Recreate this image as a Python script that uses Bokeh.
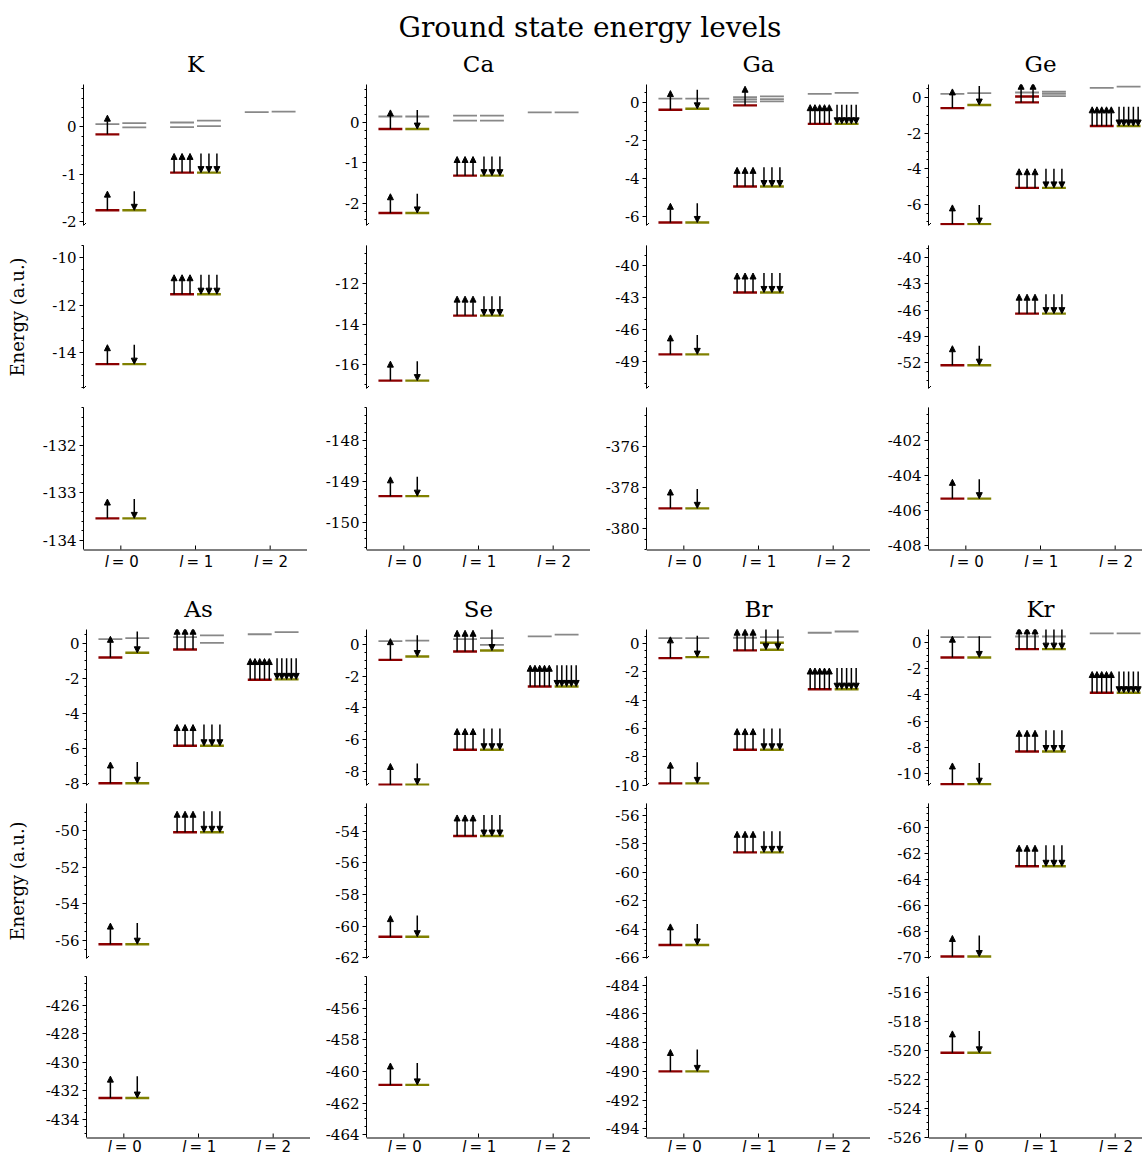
import numpy as np
from bokeh.plotting import figure
from bokeh.layouts import column, row
from bokeh.models import FixedTicker, Arrow, NormalHead, ColumnDataSource, Range1d
from bokeh.embed import file_html
from bokeh.resources import INLINE
from bokeh.core.properties import value

TITLE = "Ground state energy levels"
ELEMENTS = ["K", "Ca", "Ga", "Ge", "As", "Se", "Br", "Kr"]
L_VALUES = [0, 1, 2]
Y_LABEL = "Energy (a.u.)"

# occupied levels per l: [energy, electrons]
K_up = [[[-133.54, 1], [-14.50, 1], [-1.76, 1], [-0.16, 1]], [[-11.54, 3], [-0.966, 3]], []]
K_dn = [[[-133.54, 1], [-14.50, 1], [-1.76, 1]], [[-11.54, 3], [-0.966, 3]], []]
K_up_virt = [[0.057], [0.09, -0.007], [0.31]]
K_dn_virt = [[0.078, -0.014], [0.127, 0.014], [0.32]]
K_ylim = [[-2.08, 0.89], [-15.53, -9.48], [-134.2, -131.19]]
K_ticks = [[-2, -1, 0], [-14, -12, -10], [-134, -133, -132]]

Ca_up = [[[-149.36, 1], [-16.79, 1], [-2.24, 1], [-0.17, 1]], [[-13.58, 3], [-1.32, 3]], []]
Ca_dn = [[[-149.36, 1], [-16.79, 1], [-2.24, 1], [-0.17, 1]], [[-13.58, 3], [-1.32, 3]], []]
Ca_up_virt = [[0.14], [0.16, 0.04], [0.24]]
Ca_dn_virt = [[0.14], [0.16, 0.04], [0.24]]
Ca_ylim = [[-2.55, 0.93], [-17.18, -10.12], [-150.66, -147.2]]
Ca_ticks = [[-2, -1, 0], [-16, -14, -12], [-150, -149, -148]]

Ga_up = [[[-379.0, 1], [-48.3, 1], [-6.33, 1], [-0.40, 1]], [[-42.5, 3], [-4.44, 3], [-0.17, 1]], [[-1.14, 5]]]
Ga_dn = [[[-379.0, 1], [-48.3, 1], [-6.33, 1], [-0.35, 1]], [[-42.5, 3], [-4.44, 3]], [[-1.14, 5]]]
Ga_up_virt = [[0.19], [0.26, 0.14, 0.02], [0.44]]
Ga_dn_virt = [[0.19], [0.30, 0.16, 0.04], [0.49]]
Ga_ylim = [[-6.49, 0.93], [-51.5, -38.1], [-381.0, -374.1]]
Ga_ticks = [[-6, -4, -2, 0], [-49, -46, -43, -40], [-380, -378, -376]]

Ge_up = [[[-405.3, 1], [-52.3, 1], [-7.12, 1], [-0.58, 1]], [[-46.4, 3], [-5.08, 3], [-0.26, 2], [0.07, 0]], [[-1.59, 5]]]
Ge_dn = [[[-405.3, 1], [-52.3, 1], [-7.12, 1], [-0.41, 1]], [[-46.4, 3], [-5.08, 3]], [[-1.59, 5]]]
Ge_up_virt = [[0.22], [0.30], [0.56]]
Ge_dn_virt = [[0.26], [0.34, 0.22, 0.09], [0.63]]
Ge_ylim = [[-7.2, 0.75], [-54.97, -38.6], [-408.2, -400.1]]
Ge_ticks = [[-6, -4, -2, 0], [-52, -49, -46, -43, -40], [-408, -406, -404, -402]]

As_up = [[[-432.5, 1], [-56.2, 1], [-8.0, 1], [-0.82, 1]], [[-50.1, 3], [-5.86, 3], [-0.36, 3]], [[-2.09, 5]]]
As_dn = [[[-432.5, 1], [-56.2, 1], [-8.0, 1], [-0.55, 1]], [[-50.1, 3], [-5.86, 3]], [[-2.07, 5]]]
As_up_virt = [[0.23], [0.34], [0.51]]
As_dn_virt = [[0.29], [0.44, 0.02], [0.63]]
As_ylim = [[-8.13, 0.78], [-56.98, -48.53], [-435.26, -424.0]]
As_ticks = [[-8, -6, -4, -2, 0], [-56, -54, -52, -50], [-434, -432, -430, -428, -426]]

Se_up = [[[-460.85, 1], [-60.67, 1], [-8.86, 1], [-0.97, 1]], [[-54.3, 3], [-6.65, 3], [-0.44, 3]], [[-2.65, 5]]]
Se_dn = [[[-460.85, 1], [-60.67, 1], [-8.86, 1], [-0.76, 1]], [[-54.3, 3], [-6.65, 3], [-0.38, 1]], [[-2.65, 5]]]
Se_up_virt = [[0.21], [0.34], [0.52]]
Se_dn_virt = [[0.25], [0.40, -0.02], [0.63]]
Se_ylim = [[-8.91, 0.95], [-62.05, -52.24], [-464.19, -453.97]]
Se_ticks = [[-8, -6, -4, -2, 0], [-62, -60, -58, -56, -54], [-464, -462, -460, -458, -456]]

Br_up = [[[-490.0, 1], [-65.1, 1], [-9.86, 1], [-1.05, 1]], [[-58.6, 3], [-7.50, 3], [-0.51, 3]], [[-3.24, 5]]]
Br_dn = [[[-490.0, 1], [-65.1, 1], [-9.86, 1], [-0.98, 1]], [[-58.6, 3], [-7.50, 3], [-0.46, 2], [0.03, 0]], [[-3.24, 5]]]
Br_up_virt = [[0.35], [0.38], [0.73]]
Br_dn_virt = [[0.35], [0.42], [0.82]]
Br_ylim = [[-10.01, 0.96], [-66.05, -55.17], [-494.6, -483.4]]
Br_ticks = [[-10, -8, -6, -4, -2, 0], [-66, -64, -62, -60, -58, -56], [-494, -492, -490, -488, -486, -484]]

Kr_up = [[[-520.17, 1], [-69.9, 1], [-10.78, 1], [-1.16, 1]], [[-63.0, 3], [-8.30, 3], [-0.53, 3]], [[-3.84, 5]]]
Kr_dn = [[[-520.17, 1], [-69.9, 1], [-10.78, 1], [-1.16, 1]], [[-63.0, 3], [-8.30, 3], [-0.53, 3]], [[-3.84, 5]]]
Kr_up_virt = [[0.38], [0.43], [0.66]]
Kr_dn_virt = [[0.38], [0.43], [0.66]]
Kr_ylim = [[-10.88, 0.96], [-70.05, -58.2], [-526.02, -514.9]]
Kr_ticks = [[-10, -8, -6, -4, -2, 0], [-70, -68, -66, -64, -62, -60], [-526, -524, -522, -520, -518, -516]]

DATA = {
    "K": (K_up, K_dn, K_up_virt, K_dn_virt, K_ylim, K_ticks),
    "Ca": (Ca_up, Ca_dn, Ca_up_virt, Ca_dn_virt, Ca_ylim, Ca_ticks),
    "Ga": (Ga_up, Ga_dn, Ga_up_virt, Ga_dn_virt, Ga_ylim, Ga_ticks),
    "Ge": (Ge_up, Ge_dn, Ge_up_virt, Ge_dn_virt, Ge_ylim, Ge_ticks),
    "As": (As_up, As_dn, As_up_virt, As_dn_virt, As_ylim, As_ticks),
    "Se": (Se_up, Se_dn, Se_up_virt, Se_dn_virt, Se_ylim, Se_ticks),
    "Br": (Br_up, Br_dn, Br_up_virt, Br_dn_virt, Br_ylim, Br_ticks),
    "Kr": (Kr_up, Kr_dn, Kr_up_virt, Kr_dn_virt, Kr_ylim, Kr_ticks),
}

# styling / layout
UP_COLOR = "#8b0000"
DN_COLOR = "#808000"
VIRT_COLOR = "#888888"
LEVEL_W = 0.32
LEVEL_LW = 2.4
VIRT_LW = 1.8
X_LEFT = {"up": -0.34, "dn": 0.02}
ARROW_FRAC = 0.136
SERIF = "DejaVu Serif"
SANS = "DejaVu Sans"
MINOR_STEP = {1: 0.2, 2: 0.5, 3: 1.0}
MID = 0.346  # baseline offset of a 'middle'-anchored text, in em

FRAME_W = [224, 224, 224, 214]
PPX = 224 / 3.0
ROW_BL = [[83, 59, 56, 58], [86, 56, 56, 58]]
TITLE_STRIP = 36
ROW_PANELS = [[(0, 141, 10), (10, 143, 10), (9, 142, 0)],
              [(0, 156, 9), (9, 155, 9), (9, 161, 0)]]
X_STRIP = [44, 16]
X_LABEL_BASE = [17.2, 15.0]
YLABEL_STANDOFF = [21, 24]


def minor_ticks(lo, hi, step):
    start = np.ceil(lo / step) * step
    return [round(float(v), 6) for v in np.arange(start, hi + 1e-9, step)]


def blank(width, height, bl, x_range, y_range):
    p = figure(width=width, height=height, x_range=x_range, y_range=y_range,
               output_backend="svg", toolbar_location=None, title=None,
               min_border_left=bl, min_border_right=0, min_border_top=0, min_border_bottom=0,
               x_axis_location=None, y_axis_location=None)
    p.outline_line_color = None
    p.grid.visible = False
    p.background_fill_color = "white"
    p.border_fill_color = "white"
    return p


def title_strip(el, col, r):
    bl = ROW_BL[r][col]
    fw = FRAME_W[col]
    p = blank(bl + fw, TITLE_STRIP, bl, Range1d(-0.5, -0.5 + fw / PPX), Range1d(0, TITLE_STRIP))
    size = 23
    p.text(x=[1.0], y=[12.3 + MID * size], text=[el], text_font=value(SERIF),
           text_font_size="%dpx" % size, text_align="center", text_baseline="middle",
           text_color="black")
    return p


def make_panel(el, k, col, r):
    up, dn, upv, dnv, ylims, ticks = DATA[el]
    bt, fh, bb = ROW_PANELS[r][k]
    bl = ROW_BL[r][col]
    fw = FRAME_W[col]
    xmax = -0.5 + fw / PPX
    ylo, yhi = ylims[k]
    ppu = fh / (yhi - ylo)
    xs = X_STRIP[r] if k == 2 else 0
    p = figure(width=bl + fw, height=bt + fh + bb + xs,
               x_range=Range1d(-0.5, xmax), y_range=Range1d(ylo - xs / ppu, yhi),
               output_backend="svg", toolbar_location=None, title=None,
               min_border_left=bl, min_border_right=0, min_border_top=bt, min_border_bottom=bb,
               x_axis_location=None)
    p.outline_line_color = None
    p.grid.visible = False
    p.background_fill_color = "white"
    p.border_fill_color = "white"

    step = ticks[k][1] - ticks[k][0]
    yax = p.yaxis[0]
    yax.bounds = (ylo, yhi)
    yax.ticker = FixedTicker(ticks=ticks[k], minor_ticks=minor_ticks(ylo, yhi, MINOR_STEP[step]))
    yax.major_label_overrides = {t: str(t) for t in ticks[k]}
    yax.major_label_text_font = SERIF
    yax.major_label_text_font_size = "15px"
    yax.major_label_text_color = "black"
    yax.major_label_standoff = 3
    yax.major_tick_out = 4
    yax.major_tick_in = 0
    yax.minor_tick_out = 2
    yax.minor_tick_in = 0
    yax.axis_line_color = "black"
    yax.major_tick_line_color = "black"
    yax.minor_tick_line_color = "black"

    if k == 1 and col == 0:
        yax.axis_label = Y_LABEL
        yax.axis_label_text_font = SERIF
        yax.axis_label_text_font_size = "18px"
        yax.axis_label_text_font_style = "normal"
        yax.axis_label_text_color = "black"
        yax.axis_label_standoff = YLABEL_STANDOFF[r]

    if k == 2:
        # x axis line, inward ticks and l labels
        p.segment(x0=[-0.5], y0=[ylo - 0.5 / ppu], x1=[xmax], y1=[ylo - 0.5 / ppu],
                  line_color="black", line_width=1)
        p.segment(x0=L_VALUES, y0=[ylo] * 3, x1=L_VALUES, y1=[ylo + 4.0 / ppu] * 3,
                  line_color="black", line_width=1)
        size = 15
        yc = ylo - (X_LABEL_BASE[r] - MID * size) / ppu
        p.text(x=L_VALUES, y=[yc] * 3, text=["l"] * 3, x_offset=-12, text_font=value(SANS),
               text_font_style="italic", text_font_size="%dpx" % size, text_align="right",
               text_baseline="middle", text_color="black")
        p.text(x=L_VALUES, y=[yc] * 3, text=["= %d" % l for l in L_VALUES], x_offset=-9,
               text_font=value(SANS), text_font_size="%dpx" % size, text_align="left",
               text_baseline="middle", text_color="black")

    vx0, vx1, vys = [], [], []
    x0, x1, ys, cs = [], [], [], []
    ax0, ay0, ax1, ay1 = [], [], [], []
    alen = ARROW_FRAC * (yhi - ylo)
    for l in L_VALUES:
        for spin, occ, virt, color in (("up", up, upv, UP_COLOR), ("dn", dn, dnv, DN_COLOR)):
            xl = l + X_LEFT[spin]
            for e in virt[l]:
                if ylo <= e <= yhi:
                    vx0.append(xl); vx1.append(xl + LEVEL_W); vys.append(e)
            for e, n in occ[l]:
                if ylo - 0.01 <= e <= yhi:
                    x0.append(xl); x1.append(xl + LEVEL_W); ys.append(e); cs.append(color)
                    for i in range(n):
                        xa = xl + (i + 0.5) * LEVEL_W / n
                        if spin == "up":
                            ax0.append(xa); ay0.append(e); ax1.append(xa); ay1.append(e + alen)
                        else:
                            ax0.append(xa); ay0.append(e + alen); ax1.append(xa); ay1.append(e)
    if vx0:
        vsrc = ColumnDataSource(dict(x0=vx0, x1=vx1, y=vys))
        p.segment(x0="x0", y0="y", x1="x1", y1="y", line_color=VIRT_COLOR, line_width=VIRT_LW,
                  source=vsrc)
    src = ColumnDataSource(dict(x0=x0, x1=x1, y=ys, c=cs))
    p.segment(x0="x0", y0="y", x1="x1", y1="y", line_color="c", line_width=LEVEL_LW, source=src)
    if ax0:
        asrc = ColumnDataSource(dict(x0=ax0, y0=ay0, x1=ax1, y1=ay1))
        p.add_layout(Arrow(end=NormalHead(size=6, fill_color="black", line_color="black", line_width=1),
                           x_start="x0", y_start="y0", x_end="x1", y_end="y1",
                           line_color="black", line_width=1.5, source=asrc))

    # break marks of the broken axis
    ends = {0: [ylo], 1: [ylo, yhi], 2: [yhi]}[k]
    dx = 2.5 / PPX
    dy = 2.5 / ppu
    bsrc = ColumnDataSource(dict(x0=[-0.5 - dx] * len(ends), y0=[e - dy for e in ends],
                                 x1=[-0.5 + dx] * len(ends), y1=[e + dy for e in ends]))
    p.segment(x0="x0", y0="y0", x1="x1", y1="y1", line_color="black", line_width=1, source=bsrc)
    return p


title_fig = blank(1142, 48, 0, Range1d(0, 1142), Range1d(0, 48))
title_fig.text(x=[589.5], y=[48 - 26.5], text=[TITLE], text_font=value(SERIF), text_font_size="28px",
               text_align="center", text_baseline="middle", text_color="black")

rows = []
for r in range(2):
    cols = []
    for c in range(4):
        el = ELEMENTS[r * 4 + c]
        items = [title_strip(el, c, r)] + [make_panel(el, k, c, r) for k in range(3)]
        cols.append(column(items, spacing=0))
    rows.append(row(cols, spacing=0))

layout = column([title_fig] + rows, spacing=0)
open("out.html", "w").write(file_html(layout, INLINE))
